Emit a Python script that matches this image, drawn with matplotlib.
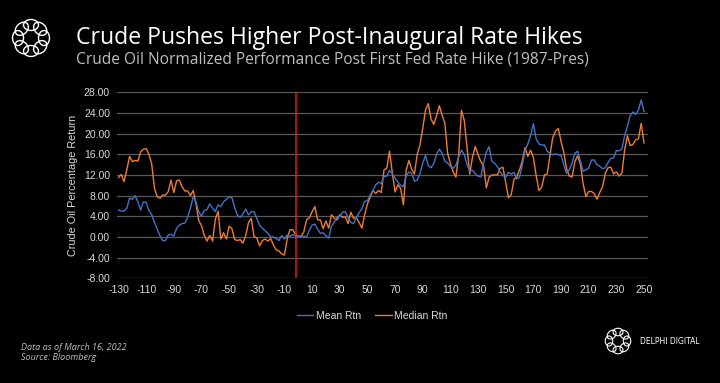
import numpy as np
import matplotlib
matplotlib.use("Agg")
import matplotlib.pyplot as plt
from matplotlib.patches import Ellipse

# days relative to the first Fed rate hike (every second day)
days = list(range(-130, 251, 2))

mean_rtn = [
    5.2, 5.0, 5.0, 5.6, 7.5, 7.3, 8.0, 6.8, 5.2, 6.8,
    6.7, 5.1, 4.3, 2.8, 1.5, 0.2, -0.7, -0.7, 0.4, 0.5,
    0.2, 1.7, 2.3, 2.6, 2.7, 3.8, 5.6, 7.8, 6.8, 4.9,
    4.0, 5.1, 5.3, 6.4, 5.6, 4.9, 6.2, 5.9, 6.8, 7.3,
    7.7, 7.6, 5.7, 4.2, 3.8, 4.5, 5.4, 4.3, 4.9, 4.9,
    3.6, 2.3, 1.7, 1.2, 0.7, 0.0, 0.0, -0.3, -0.7, 0.3,
    -0.4, 0.4, 0.1, 0.5, 0.1, 0.1, 0.2, 0.1, 0.0, 1.3,
    2.3, 2.5, 1.5, 0.7, 0.8, 0.2, -0.2, 2.1, 2.8, 3.9,
    4.0, 4.8, 4.9, 3.7, 2.8, 2.6, 3.8, 4.7, 5.5, 6.9,
    7.0, 8.1, 9.0, 10.1, 10.6, 10.3, 11.7, 11.8, 12.9, 12.2,
    11.4, 10.6, 10.0, 9.7, 11.8, 12.6, 12.3, 10.8, 11.0, 12.3,
    14.3, 15.8, 13.8, 13.4, 14.2, 16.0, 17.0, 16.2, 14.7, 14.3,
    13.6, 13.3, 13.9, 15.5, 16.8, 16.0, 14.0, 12.8, 12.9, 12.2,
    11.8, 11.6, 14.3, 16.4, 17.5, 14.6, 14.3, 13.6, 12.6, 11.9,
    11.6, 12.5, 12.2, 12.5, 11.2, 11.6, 13.9, 16.8, 18.0, 19.6,
    21.9, 19.0, 18.0, 17.8, 17.8, 16.6, 16.2, 15.9, 16.1, 15.9,
    15.8, 14.0, 12.3, 13.0, 14.3, 16.2, 16.6, 14.7, 12.7, 13.0,
    13.3, 14.9, 14.9, 14.0, 13.7, 13.2, 13.4, 14.4, 15.2, 15.3,
    16.7, 16.7, 17.0, 19.6, 21.4, 23.5, 24.2, 23.7, 24.6, 26.5,
    24.3,
]

median_rtn = [
    11.5, 12.1, 10.7, 13.0, 15.6, 14.6, 14.8, 14.7, 16.5, 17.0,
    17.1, 16.0, 14.1, 9.4, 7.8, 7.5, 8.1, 8.1, 8.8, 11.0,
    8.6, 10.9, 11.0, 9.7, 8.9, 8.9, 8.0, 9.0, 6.5, 3.2,
    2.2, 0.3, -0.8, 0.3, -0.8, 3.4, 5.0, -0.4, 0.8, -0.4,
    2.1, 1.6, -0.5, -0.7, -0.5, -1.2, 0.3, 2.8, 3.6, 0.1,
    -0.2, -1.7, -0.7, -0.4, -0.8, -0.3, -1.5, -2.5, -2.7, -3.3,
    -3.5, -0.3, 1.4, 1.4, 0.5, 0.1, 0.1, 1.0, 3.3, 3.7,
    4.9, 5.9, 3.3, 3.3, 1.6, 3.1, 1.7, 4.3, 3.6, 3.3,
    4.3, 3.8, 3.9, 2.6, 4.8, 3.6, 3.7, 2.8, 1.7, 4.3,
    6.4, 7.7, 9.0, 8.4, 9.0, 8.6, 13.0, 13.3, 16.6, 12.4,
    8.7, 10.1, 9.4, 6.2, 12.9, 14.8, 13.1, 12.2, 16.0, 17.8,
    21.0, 24.6, 25.8, 22.8, 21.8, 23.5, 25.4, 23.6, 22.0, 16.2,
    14.2, 12.6, 11.6, 15.9, 24.5, 22.6, 17.5, 12.2, 15.5, 17.5,
    15.9, 14.6, 13.8, 9.5, 11.6, 12.0, 12.0, 12.0, 13.3, 13.5,
    10.6, 7.6, 8.2, 11.2, 11.6, 13.0, 14.7, 17.3, 15.6, 16.8,
    15.4, 11.9, 9.0, 9.6, 12.0, 12.2, 15.8, 19.2, 20.5, 21.0,
    18.5, 16.4, 13.2, 11.8, 11.6, 14.6, 15.7, 14.1, 10.3, 7.8,
    8.8, 8.8, 8.4, 7.3, 8.6, 9.7, 12.3, 13.4, 13.5, 12.2,
    12.6, 11.8, 12.3, 16.8, 19.6, 17.7, 17.9, 18.8, 19.0, 22.0,
    18.2,
]

y_ticks = list(range(-8, 29, 4))
x_ticks = list(range(-130, 251, 20))
marker_day = -2  # red vertical marker as drawn on the original

BLUE = "#4472C4"
ORANGE = "#ED7D31"
TXT = "#d9d9d9"
NARROW = ["Liberation Sans Narrow", "Liberation Sans", "DejaVu Sans"]

fig = plt.figure(figsize=(7.2, 3.83), dpi=100, facecolor="black")

# decoration layer in pixel coordinates
deco = fig.add_axes([0, 0, 1, 1], zorder=0)
deco.set_xlim(0, 720)
deco.set_ylim(383, 0)
deco.axis("off")
deco.patch.set_alpha(0)


def draw_logo(ax, cx, cy, r, w, h, lw):
    # ring of eight linked loops
    for k in range(8):
        a = np.pi / 2 + k * np.pi / 4
        ax.add_patch(Ellipse((cx + r * np.cos(a), cy - r * np.sin(a)), w, h,
                             angle=-np.degrees(a) + 90, fill=False,
                             edgecolor="white", lw=lw))


draw_logo(deco, 31, 38, 13, 15, 11, 1.0)
draw_logo(deco, 618, 341, 9, 10, 7.5, 0.8)

fig.text(76 / 720, 1 - 38 / 383, "Crude Pushes Higher Post-Inaugural Rate Hikes",
         color="white", fontsize=16.6, family="Open Sans", va="center", ha="left")
fig.text(76 / 720, 1 - 59 / 383,
         "Crude Oil Normalized Performance Post First Fed Rate Hike (1987-Pres)",
         color="#bfbfbf", fontsize=11.2, family="Open Sans", va="center", ha="left")
fig.text(21 / 720, 1 - 347 / 383, "Data as of March 16, 2022", color="#bfbfbf",
         fontsize=6.5, style="italic", family="Open Sans", va="center")
fig.text(21 / 720, 1 - 358 / 383, "Source: Bloomberg", color="#bfbfbf",
         fontsize=6.5, style="italic", family="Open Sans", va="center")
fig.text(640 / 720, 1 - 341 / 383, "DELPHI DIGITAL", color="white",
         fontsize=5.5, family="DejaVu Sans", va="center", ha="left")

ax = fig.add_axes([117 / 720, 1 - 278.3 / 383, 531 / 720, 186 / 383], zorder=1)
ax.set_facecolor("black")
ax.patch.set_alpha(0)

ax.plot(days, mean_rtn, color=BLUE, lw=1.0, label="Mean Rtn", zorder=3)
ax.plot(days, median_rtn, color=ORANGE, lw=1.0, label="Median Rtn", zorder=2)
ax.axvline(marker_day, color="#e01c1c", lw=1.1, zorder=4)

ax.set_xlim(-131.1, 252.9)
ax.set_ylim(-8, 28)
ax.set_yticks(y_ticks)
ax.set_yticklabels([f"{v:.2f}" for v in y_ticks])
ax.set_xticks(x_ticks)
ax.set_xticklabels([str(v) for v in x_ticks])
ax.grid(axis="y", color="#595959", lw=0.9)
ax.set_axisbelow(True)
for s in ax.spines.values():
    s.set_visible(False)
ax.tick_params(length=0, colors=TXT, labelsize=7.5, pad=5)
for lab in ax.get_xticklabels() + ax.get_yticklabels():
    lab.set_family(NARROW)
ax.set_ylabel("Crude Oil Percentage Return", color=TXT, fontsize=7.8,
              family=NARROW, labelpad=4)

leg = fig.legend(loc="center", bbox_to_anchor=(372 / 720, 1 - 316 / 383), ncol=2,
                 frameon=False, handlelength=1.6, handletextpad=0.2,
                 columnspacing=1.4, prop={"family": NARROW, "size": 7.5})
for t in leg.get_texts():
    t.set_color(TXT)

fig.savefig("out.png", dpi=100, facecolor="black")
